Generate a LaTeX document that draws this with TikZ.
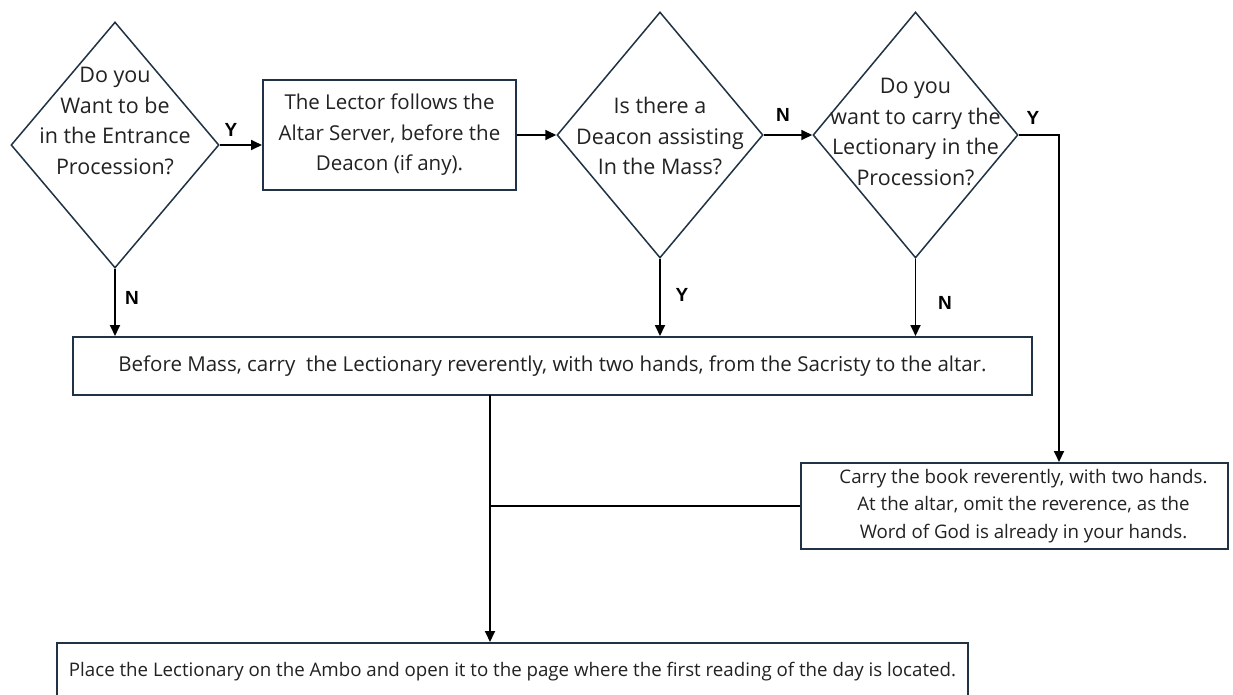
\documentclass[tikz,border=0pt]{standalone}
\usepackage{fontspec}
\setmainfont{Open Sans}
\newfontfamily\lblfont{Liberation Sans}
\usetikzlibrary{shapes.geometric,arrows.meta}
\definecolor{edgec}{HTML}{1F3344}
\definecolor{txtc}{HTML}{222222}
\tikzset{
  dec/.style={diamond, draw=edgec, line width=1.5pt, inner sep=0pt},
  dtext/.style={align=center, text=txtc, font=\fontsize{21.5}{30.5}\selectfont},
  box/.style={draw=edgec, line width=2pt, inner sep=0pt, align=center, text=txtc},
  bigtxt/.style={font=\fontsize{20.5}{30.5}\selectfont},
  smalltxt/.style={font=\fontsize{18.7}{27.5}\selectfont},
  arr/.style={draw=black, line width=1.8pt, -{Triangle[length=11pt,width=10pt]}},
  plain/.style={draw=black, line width=1.5pt},
  yn/.style={font=\lblfont\bfseries\fontsize{19}{19}\selectfont, text=black, inner sep=0pt}
}
\begin{document}
\begin{tikzpicture}[x=1pt,y=-1pt]
\useasboundingbox (0,0) rectangle (1233,694);
\clip (0,0) rectangle (1233,694);
\fill[white] (0,0) rectangle (1233,694);
% decisions
\node[dec, minimum width=208pt, minimum height=246pt] (d1) at (115,145) {};
\node[dtext] (t1) at (115,121) {Do you\\Want to be\\in the Entrance\\Procession?};
\node[dec, minimum width=206pt, minimum height=246pt] (d2) at (660,135) {};
\node[dtext] (t2) at (660,136) {Is there a\\Deacon assisting\\In the Mass?};
\node[dec, minimum width=205pt, minimum height=246pt] (d3) at (915.5,135) {};
\node[dtext] (t3) at (915.5,132) {Do you\\want to carry the\\Lectionary in the\\Procession?};
% boxes
\node[box, bigtxt, minimum width=253pt, minimum height=110pt] (b1) at (389.5,135)
  {The Lector follows the\\Altar Server, before the\\Deacon (if any).};
\node[box, bigtxt, minimum width=959pt, minimum height=58pt] (bb) at (552.5,366)
  {Before Mass, carry\ \ the Lectionary reverently, with two hands, from the Sacristy to the altar.};
\node[box, smalltxt, minimum width=427pt, minimum height=86pt] (cb) at (1014.5,506)
  {\hspace*{18pt}Carry the book reverently, with two hands.\\\hspace*{18pt}At the altar, omit the reverence, as the\\\hspace*{18pt}Word of God is already in your hands.};
\node[box, smalltxt, minimum width=911pt, minimum height=58pt] (pb) at (512.5,672)
  {Place the Lectionary on the Ambo and open it to the page where the first reading of the day is located.};
% connectors
\draw[arr] (d1.east) -- (d1.east -| b1.west);
\node[yn] (ly1) at (231,130) {Y};
\draw[arr] (b1.east) -- (d2.west);
\draw[arr] (d2.east) -- (d3.west);
\node[yn] (ln1) at (783,115) {N};
\coordinate (yc) at (1059,135);
\draw[arr] (d3.east) -- (yc) -- (yc |- cb.north);
\node[yn] (ly2) at (1033,118) {Y};
\draw[arr] (d1.south) -- (d1.south |- bb.north);
\node[yn] (ln2) at (132,298) {N};
\draw[arr] (d2.south) -- (d2.south |- bb.north);
\node[yn] (ly3) at (682,295) {Y};
\draw[arr] (d3.south) -- (d3.south |- bb.north);
\node[yn] (ln3) at (945,303) {N};
\coordinate (mx) at (490,395);
\draw[arr] (mx) -- (mx |- pb.north);
\draw[plain] (cb.west) -- (cb.west -| mx);
\end{tikzpicture}
\end{document}
